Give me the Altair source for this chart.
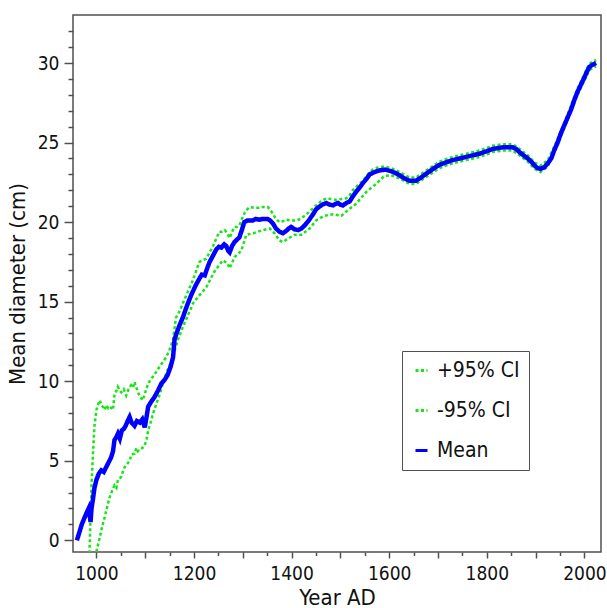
import altair as alt
import pandas as pd

# ---- data ----
mean_years = [960, 965, 970, 976, 981, 984, 986, 988, 990, 993, 996, 1000, 1005, 1010, 1015, 1020, 1025,
              1030, 1034, 1037, 1041, 1044, 1048, 1052, 1056, 1060, 1064, 1068, 1072, 1078, 1083, 1089,
              1094, 1099, 1103, 1106, 1112, 1119, 1126, 1133, 1140, 1146, 1152, 1157, 1160, 1164, 1170,
              1177, 1185, 1194, 1203, 1211, 1216, 1222, 1227, 1232, 1239, 1246, 1251, 1256, 1262, 1266,
              1270, 1273, 1278, 1283, 1288, 1293, 1298, 1303, 1309, 1314, 1320, 1327, 1334, 1341, 1347,
              1351, 1356, 1362, 1368, 1375, 1382, 1389, 1394, 1399, 1406, 1413, 1420, 1427, 1435, 1444,
              1450, 1456, 1463, 1471, 1478, 1485, 1490, 1495, 1500, 1505, 1512, 1519, 1525, 1532, 1540,
              1546, 1553, 1560, 1570, 1580, 1592, 1604, 1612, 1621, 1631, 1642, 1655, 1665, 1676, 1690,
              1703, 1716, 1730, 1744, 1758, 1771, 1785, 1799, 1812, 1822, 1833, 1843, 1853, 1860, 1867,
              1875, 1884, 1891, 1898, 1904, 1910, 1918, 1925, 1932, 1938, 1945, 1952, 1959, 1966, 1973,
              1979, 1986, 1993, 2000, 2005, 2010, 2017, 2024]
mean_vals = [0.0, 0.5, 1.0, 1.45, 1.8, 2.0, 1.6, 1.15, 2.0, 2.6, 3.3, 3.8, 4.2, 4.4, 4.3, 4.6, 4.9,
             5.2, 5.6, 6.3, 6.5, 6.7, 6.4, 6.9, 7.0, 7.2, 7.5, 7.75, 7.4, 7.2, 7.5, 7.4,
             7.6, 7.1, 7.8, 8.4, 8.7, 9.0, 9.4, 9.85, 10.1, 10.4, 10.9, 11.5, 12.6, 13.0, 13.5,
             14.0, 14.7, 15.4, 16.0, 16.45, 16.7, 16.65, 17.1, 17.5, 17.9, 18.3, 18.45, 18.4, 18.6, 18.5,
             18.2, 18.1, 18.5, 18.75, 18.9, 19.05, 19.5, 20.0, 20.1, 20.1, 20.1, 20.2, 20.15, 20.2, 20.2,
             20.2, 20.1, 19.9, 19.6, 19.4, 19.3, 19.45, 19.6, 19.7, 19.55, 19.5, 19.6, 19.8, 20.1, 20.5,
             20.8, 20.95, 21.1, 21.2, 21.1, 21.05, 21.15, 21.2, 21.1, 21.05, 21.2, 21.3, 21.6, 21.9, 22.2,
             22.45, 22.7, 23.0, 23.15, 23.25, 23.3, 23.2, 23.1, 22.95, 22.75, 22.6, 22.6, 22.8, 23.05, 23.35,
             23.6, 23.75, 23.9, 24.0, 24.1, 24.2, 24.3, 24.45, 24.6, 24.65, 24.7, 24.7, 24.7, 24.6, 24.4,
             24.2, 24.0, 23.8, 23.55, 23.4, 23.35, 23.45, 23.7, 24.0, 24.5, 25.0, 25.6, 26.1, 26.6, 27.1,
             27.65, 28.2, 28.65, 29.1, 29.45, 29.75, 29.9, 30.0]

upper_years = [985, 988, 990, 993, 996, 1000, 1003, 1007, 1010, 1013, 1017, 1020, 1024, 1027, 1031, 1034,
               1037, 1041, 1044, 1048, 1051, 1056, 1061, 1066, 1071, 1075, 1078, 1082, 1085, 1090, 1095,
               1100, 1106, 1111, 1116, 1123, 1129, 1136, 1143, 1150, 1157, 1163, 1167, 1172, 1177, 1187,
               1197, 1204, 1211, 1218, 1225, 1232, 1239, 1246, 1252, 1257, 1263, 1268, 1273, 1278, 1283,
               1288, 1293, 1298, 1304, 1309, 1314, 1324, 1334, 1342, 1351, 1356, 1362, 1368, 1375, 1382,
               1389, 1399, 1409, 1418, 1427, 1438, 1450, 1460, 1471, 1481, 1491, 1502, 1512, 1519, 1525,
               1535, 1546, 1556, 1566, 1578, 1590, 1604, 1621, 1642, 1655, 1676, 1703, 1730, 1758, 1785,
               1812, 1833, 1853, 1867, 1884, 1898, 1910, 1925, 1945, 1966, 1986, 2000, 2010, 2024]
upper_vals = [-1.5, 1.5, 3.5, 5.5, 7.2, 8.2, 8.5, 8.8, 8.5, 8.4, 8.2, 8.5, 8.3, 8.4, 8.3, 8.2,
              9.2, 9.4, 9.65, 9.4, 9.3, 9.5, 9.1, 9.5, 9.75, 9.6, 9.95, 9.6, 9.3, 9.0, 8.8,
              9.3, 9.85, 10.1, 10.3, 10.6, 10.9, 11.2, 11.5, 12.0, 12.6, 14.0, 14.2, 14.5, 14.9, 15.6,
              16.3, 16.9, 17.5, 17.6, 17.7, 18.1, 18.5, 19.0, 19.4, 19.4, 19.5, 19.3, 19.0, 19.4, 19.7,
              19.7, 19.8, 20.2, 20.6, 20.8, 20.95, 20.9, 20.9, 20.95, 20.95, 20.8, 20.5, 20.2, 20.0, 20.05,
              20.15, 20.1, 20.1, 20.2, 20.4, 20.7, 21.05, 21.3, 21.5, 21.45, 21.4, 21.45, 21.5, 21.7, 22.0,
              22.3, 22.6, 23.0, 23.3, 23.45, 23.5, 23.4, 23.15, 22.8, 22.8, 23.25, 23.8, 24.1, 24.3, 24.5,
              24.8, 24.9, 24.9, 24.6, 24.2, 23.75, 23.55, 23.9, 25.2, 26.8, 28.4, 29.3, 29.95, 30.2]

lower_years = [985, 995, 1000, 1007, 1012, 1017, 1022, 1027, 1032, 1037, 1041, 1044, 1048, 1051, 1055,
               1058, 1063, 1068, 1072, 1078, 1082, 1085, 1089, 1094, 1099, 1103, 1106, 1111, 1116, 1123,
               1130, 1136, 1143, 1150, 1157, 1162, 1167, 1177, 1187, 1198, 1211, 1225, 1242, 1259, 1269,
               1273, 1283, 1297, 1307, 1321, 1341, 1355, 1365, 1375, 1382, 1392, 1406, 1420, 1437, 1450,
               1467, 1485, 1502, 1515, 1532, 1553, 1573, 1590, 1604, 1621, 1642, 1655, 1676, 1703, 1730,
               1758, 1785, 1812, 1833, 1853, 1867, 1884, 1898, 1910, 1925, 1945, 1966, 1986, 2000, 2010,
               2024]
lower_vals = [-9.0, -3.0, -0.7, 0.2, 0.9, 1.46, 2.1, 2.7, 3.1, 3.46, 3.3, 3.8, 3.9, 4.0, 4.4,
              4.6, 4.8, 5.0, 5.4, 5.45, 5.8, 5.6, 5.76, 5.8, 5.97, 6.4, 6.9, 7.4, 7.96, 8.6,
              9.2, 9.8, 10.5, 11.0, 11.5, 12.1, 12.6, 13.4, 14.1, 14.9, 15.4, 15.9, 16.9, 17.6, 17.4,
              17.1, 17.8, 18.2, 19.2, 19.3, 19.5, 19.6, 19.3, 18.85, 18.75, 18.95, 19.2, 19.2, 19.6, 20.1,
              20.4, 20.5, 20.4, 20.75, 21.15, 21.9, 22.4, 22.9, 22.95, 22.75, 22.4, 22.4, 22.85, 23.4, 23.7,
              23.9, 24.1, 24.4, 24.5, 24.5, 24.2, 23.8, 23.35, 23.15, 23.5, 24.85, 26.45, 28.0, 28.9, 29.55,
              29.8]

series_names = ["+95% CI", "-95% CI", "Mean"]
series_colors = ["#16e616", "#16e616", "#0000ff"]
series_dashes = [[3, 2.5], [3, 2.5], [1, 0]]
x_ticks = list(range(1000, 2001, 50))
y_ticks = list(range(0, 33))

df = pd.concat([
    pd.DataFrame({"year": upper_years, "value": upper_vals, "series": series_names[0]}),
    pd.DataFrame({"year": lower_years, "value": lower_vals, "series": series_names[1]}),
    pd.DataFrame({"year": mean_years, "value": mean_vals, "series": series_names[2]}),
], ignore_index=True)

FONT = "DejaVu Sans Condensed, DejaVu Sans"
TXT = "#111111"
FRAME = "#505050"

x_enc = alt.X("year:Q",
              scale=alt.Scale(domain=[952, 2034], nice=False, zero=False),
              axis=alt.Axis(values=x_ticks, format="d", title="Year AD",
                            labelExpr="datum.value % 200 === 0 ? datum.label : ''",
                            labelOverlap=False,
                            tickSize={"condition": {"test": "datum.value % 100 === 0", "value": 6},
                                      "value": 3.5},
                            labelPadding=6, titlePadding=4))
y_enc = alt.Y("value:Q",
              scale=alt.Scale(domain=[-0.735, 33.02], nice=False, zero=False),
              axis=alt.Axis(values=y_ticks, format="d", title="Mean diameter (cm)",
                            labelExpr="datum.value % 5 === 0 ? datum.label : ''",
                            labelOverlap=False,
                            tickSize={"condition": {"test": "datum.value % 5 === 0", "value": 9},
                                      "value": 5},
                            labelPadding=5, titlePadding=8))
color_enc = alt.Color("series:N",
                      scale=alt.Scale(domain=series_names, range=series_colors),
                      sort=series_names, title=None,
                      legend=alt.Legend(orient="none", legendX=329, legendY=336))
dash_enc = alt.StrokeDash("series:N",
                          scale=alt.Scale(domain=series_names, range=series_dashes),
                          sort=series_names, title=None,
                          legend=alt.Legend(orient="none", legendX=329, legendY=336))

base = alt.Chart(df)
ci = base.transform_filter(alt.datum.series != "Mean").mark_line(
    strokeWidth=2.5, clip=True).encode(x=x_enc, y=y_enc, color=color_enc, strokeDash=dash_enc)
mean = base.transform_filter(alt.datum.series == "Mean").mark_line(
    strokeWidth=4.5, clip=True).encode(x=x_enc, y=y_enc, color=color_enc, strokeDash=dash_enc)

chart = alt.layer(ci, mean).properties(
    width=528, height=537,
    autosize=alt.AutoSizeParams(type="none"),
    padding={"left": 73, "top": 15, "right": 6, "bottom": 56},
    background="white",
).configure_view(
    stroke=FRAME, strokeWidth=1.5
).configure_axis(
    grid=False, domain=False, tickColor=FRAME, tickWidth=1.5,
    labelFont=FONT, labelFontSize=19, labelColor=TXT,
    titleFont=FONT, titleFontSize=22, titleColor=TXT, titleFontWeight="normal",
).configure_legend(
    labelFont=FONT, labelFontSize=21, labelColor=TXT,
    symbolType="stroke", symbolSize=144, symbolStrokeWidth=3,
    padding=9, rowPadding=18, labelOffset=5,
    strokeColor=FRAME, fillColor="white", cornerRadius=0,
)

chart.save("out.html", embed_options={"renderer": "svg", "actions": False})
